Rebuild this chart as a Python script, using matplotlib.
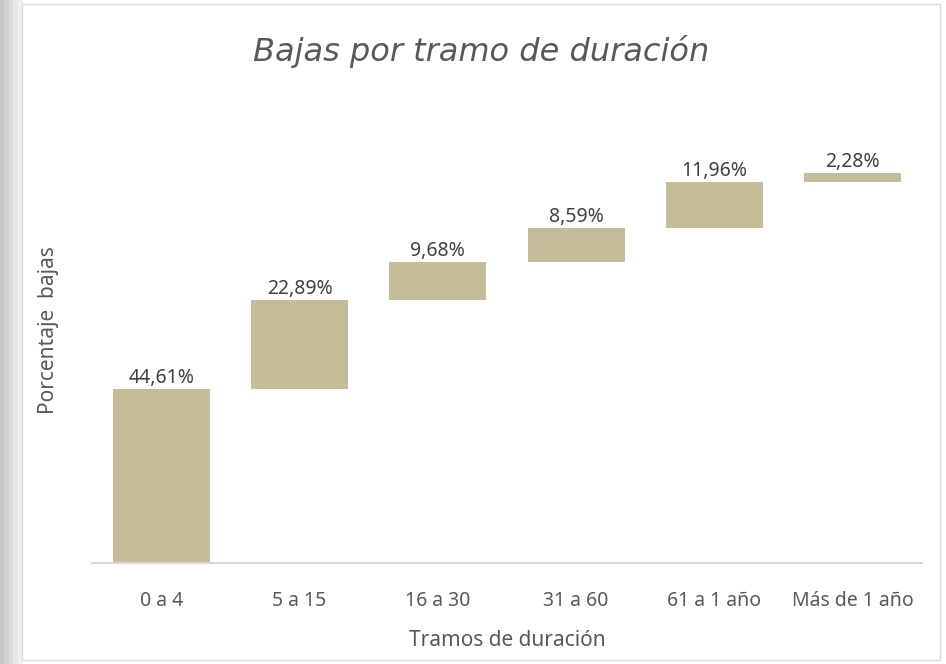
import numpy as np
import matplotlib
matplotlib.use('Agg')
import matplotlib.pyplot as plt
from matplotlib.patches import Rectangle

# data
categories = ['0 a 4', '5 a 15', '16 a 30', '31 a 60', '61 a 1 año', 'Más de 1 año']
values = [44.61, 22.89, 9.68, 8.59, 11.96, 2.28]
labels = ['44,61%', '22,89%', '9,68%', '8,59%', '11,96%', '2,28%']

bar_color = '#C4BD97'
label_color = '#404040'
axis_text_color = '#595959'
font_main = ['Noto Sans', 'DejaVu Sans']


def main():
    fig = plt.figure(figsize=(9.46, 6.64), dpi=100)

    # grey shadow strip on the left and the chart frame
    shades = ['#c8c8c8', '#d2d2d2', '#dcdcdc', '#e6e6e6', '#eeeeee']
    for i, c in enumerate(shades):
        fig.patches.append(Rectangle((i * 4.4 / 946, 0), 4.4 / 946, 1,
                                     transform=fig.transFigure, color=c, zorder=0))
    fig.patches.append(Rectangle((22 / 946, 4 / 664), 918 / 946, 656 / 664,
                                 transform=fig.transFigure, facecolor='white',
                                 edgecolor='#d9d9d9', linewidth=1, zorder=1))

    ymax = 110
    px_per_unit = 3.9
    bottom_px = 563
    ax = fig.add_axes([92 / 946, (664 - bottom_px) / 664, 830 / 946,
                       ymax * px_per_unit / 664])
    ax.set_facecolor('none')
    ax.set_zorder(5)

    x = np.arange(len(categories))
    bottoms = np.concatenate([[0], np.cumsum(values)[:-1]])
    ax.bar(x, values, bottom=bottoms, width=0.7, color=bar_color, zorder=2)

    for xi, b, v, lab in zip(x, bottoms, values, labels):
        ax.text(xi, b + v + 0.3, lab, ha='center', va='bottom',
                fontsize=14, color=label_color, family=font_main)

    ax.set_xlim(-0.5, len(categories) - 0.5)
    ax.set_ylim(0, ymax)
    ax.set_yticks([])
    ax.set_xticks(x)
    ax.set_xticklabels(categories, fontsize=14, color=axis_text_color, family=font_main)
    ax.tick_params(axis='x', length=0, pad=20)
    for s in ['top', 'right', 'left']:
        ax.spines[s].set_visible(False)
    ax.spines['bottom'].set_color('#d9d9d9')
    ax.spines['bottom'].set_linewidth(1.5)

    ax.set_xlabel('Tramos de duración', fontsize=15, color=axis_text_color,
                  family=font_main, labelpad=14)

    fig.text(49 / 946, 1 - 330 / 664, 'Porcentaje  bajas', rotation=90,
             ha='center', va='center', fontsize=15, color=axis_text_color,
             family=font_main, zorder=5)

    fig.text(481 / 946, 1 - 52 / 664, 'Bajas por tramo de duración',
             ha='center', va='center', fontsize=23, color='#595959',
             family='DejaVu Sans', style='italic', zorder=5)

    fig.savefig('out.png', dpi=100)


if __name__ == "__main__":
    main()
